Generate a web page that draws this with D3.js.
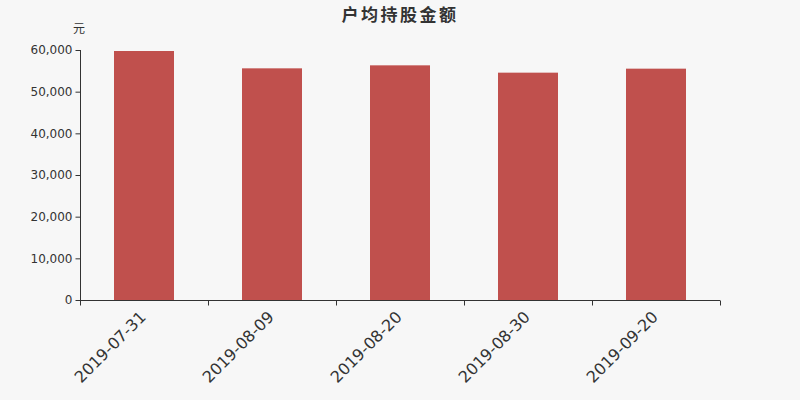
<!DOCTYPE html>
<html><head><meta charset="utf-8">
<script src="https://cdn.jsdelivr.net/npm/d3@7"></script>
<style>body{margin:0;background:#f7f7f7;}svg{display:block;font-family:"DejaVu Sans",sans-serif;}</style>
</head><body><svg id="c" width="800" height="400"></svg>
<script>
const categories = ["2019-07-31","2019-08-09","2019-08-20","2019-08-30","2019-09-20"];
const values = [59760, 55600, 56320, 54560, 55520];
const yTicks = [0,10000,20000,30000,40000,50000,60000];
const title = "户均持股金额";
const unit = "元";

const svg = d3.select("#c");
svg.append("rect").attr("width",800).attr("height",400).attr("fill","#f7f7f7");
const xb = d3.scaleBand().domain(categories).range([80,720]);
const y = d3.scaleLinear().domain([0,60000]).range([300,50]);

svg.append("g").selectAll("rect").data(values).join("rect")
  .attr("x",(d,i)=>xb(categories[i]) + xb.bandwidth()/2 - 30)
  .attr("width",60)
  .attr("y",d=>y(d)).attr("height",d=>300-y(d))
  .attr("fill","#c0504d");

const ya = svg.append("g").attr("transform","translate(80.5,0)")
  .call(d3.axisLeft(y).tickValues(yTicks).tickSize(5).tickPadding(3).tickFormat(d3.format(",")));
ya.select(".domain").attr("stroke","#333").attr("d","M0,50V300");
ya.selectAll(".tick line").attr("stroke","#333");
ya.selectAll("text").attr("fill","#333").attr("font-size",12).attr("font-family","DejaVu Sans, sans-serif");

const xa = svg.append("g").attr("transform","translate(0,300.5)")
  .call(d3.axisBottom(xb).tickSize(0).tickFormat(""));
xa.select(".domain").attr("stroke","#333").attr("d","M80,0H720");
xa.selectAll(".tick").remove();
const edges = d3.range(categories.length+1).map(i=>80+i*xb.step());
xa.selectAll("line.t").data(edges).join("line").attr("class","t")
  .attr("x1",d=>Math.round(d)+0.5).attr("x2",d=>Math.round(d)+0.5).attr("y1",0).attr("y2",5).attr("stroke","#333");
xa.selectAll("text.l").data(categories).join("text").attr("class","l")
  .attr("transform",d=>`translate(${xb(d)+xb.bandwidth()/2+3},${17.5}) rotate(-45)`)
  .attr("text-anchor","end")
  .attr("font-size",16).attr("font-family","DejaVu Sans, sans-serif").attr("fill","#333").text(d=>d);

svg.append("text").attr("x",400).attr("y",21).attr("text-anchor","middle")
  .attr("font-size",17).attr("font-weight","bold").attr("fill","#333")
  .attr("font-family","Noto Sans CJK SC, sans-serif").attr("letter-spacing",2.5).text(title);
svg.append("text").attr("x",79).attr("y",33).attr("text-anchor","middle")
  .attr("font-size",12).attr("fill","#333").attr("font-family","Noto Sans CJK SC, sans-serif").text(unit);
</script></body></html>
